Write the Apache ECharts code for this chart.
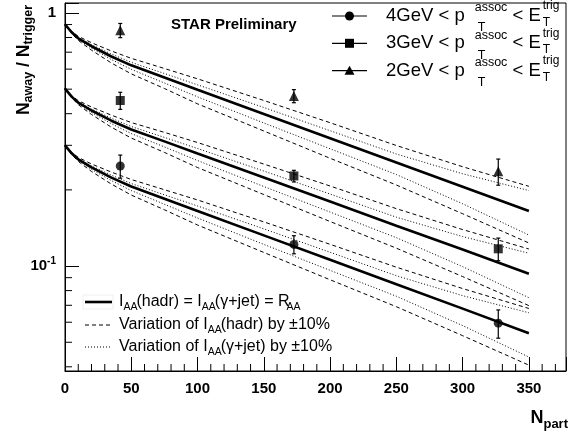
<!DOCTYPE html>
<html><head><meta charset="utf-8">
<script src="https://cdn.jsdelivr.net/npm/echarts@6/dist/echarts.min.js"></script>
<style>html,body{margin:0;padding:0;background:#fff}#c{width:575px;height:433px}</style>
</head><body><div id="c"></div>
<script>
// ---------------- data ----------------
const xSamples = [0, 5, 10, 20, 35, 50, 75, 100, 150, 200, 250, 300, 350];

// 2GeV group (triangles, top)
const top_solid   = [0.902, 0.839, 0.794, 0.739, 0.673, 0.621, 0.556, 0.497, 0.399, 0.320, 0.2566, 0.2058, 0.165];
const top_dashUp  = [0.902, 0.8467, 0.8086, 0.7629, 0.7076, 0.6619, 0.6035, 0.5493, 0.4511, 0.3685, 0.2995, 0.2469, 0.2066];
const top_dotUp   = [0.902, 0.8428, 0.8013, 0.7492, 0.6885, 0.6382, 0.5766, 0.5201, 0.4233, 0.3426, 0.2772, 0.2316, 0.1988];
const top_dotLo   = [0.902, 0.8352, 0.7868, 0.7257, 0.6549, 0.5988, 0.5289, 0.4663, 0.3676, 0.2908, 0.2300, 0.1763, 0.1326];
const top_dashLo  = [0.902, 0.8314, 0.7797, 0.7126, 0.6343, 0.5748, 0.5030, 0.4375, 0.3418, 0.2667, 0.2091, 0.1610, 0.1234];

// 3GeV group (squares, middle)
const mid_solid   = [0.5025, 0.4673, 0.4423, 0.4118, 0.3753, 0.3463, 0.3109, 0.2784, 0.2238, 0.1799, 0.1444, 0.1162, 0.0933];
const mid_dashUp  = [0.5025, 0.4716, 0.4504, 0.4251, 0.3946, 0.3691, 0.3375, 0.3077, 0.2530, 0.2072, 0.1686, 0.1394, 0.1168];
const mid_dotUp   = [0.5025, 0.4694, 0.4463, 0.4175, 0.3839, 0.3559, 0.3224, 0.2914, 0.2374, 0.1926, 0.1560, 0.1308, 0.1124];
const mid_dotLo   = [0.5025, 0.4652, 0.4383, 0.4044, 0.3652, 0.3339, 0.2957, 0.2612, 0.2062, 0.1635, 0.1295, 0.0995, 0.0750];
const mid_dashLo  = [0.5025, 0.4631, 0.4343, 0.3971, 0.3537, 0.3205, 0.2813, 0.2451, 0.1917, 0.1500, 0.1177, 0.0909, 0.0698];

// 4GeV group (circles, bottom)
const bot_solid   = [0.300, 0.2789, 0.2640, 0.2453, 0.2236, 0.2062, 0.1845, 0.1651, 0.1322, 0.1059, 0.0848, 0.0679, 0.0543];
const bot_dashUp  = [0.300, 0.2814, 0.2688, 0.2532, 0.2351, 0.2198, 0.2003, 0.1825, 0.1495, 0.1219, 0.0990, 0.0815, 0.0680];
const bot_dotUp   = [0.300, 0.2802, 0.2664, 0.2487, 0.2287, 0.2119, 0.1913, 0.1728, 0.1403, 0.1134, 0.0916, 0.0764, 0.0654];
const bot_dotLo   = [0.300, 0.2776, 0.2616, 0.2409, 0.2176, 0.1988, 0.1755, 0.1549, 0.1218, 0.0962, 0.0760, 0.0582, 0.0437];
const bot_dashLo  = [0.300, 0.2764, 0.2592, 0.2365, 0.2108, 0.1908, 0.1669, 0.1453, 0.1132, 0.0883, 0.0691, 0.0531, 0.0406];

// measured points
const nPart    = [41.7, 172.7, 326.9];
const tri      = [0.854, 0.470, 0.2367];
const triErr   = [0.055, 0.028, 0.028];
const sq       = [0.451, 0.227, 0.117];
const sqErr    = [0.035, 0.012, 0.012];
const circ     = [0.2485, 0.1218, 0.0595];
const circErr  = [0.026, 0.010, 0.0076];

// axis ticks
const xMinorTicks = [10,20,30,40,60,70,80,90,110,120,130,140,160,170,180,190,210,220,230,240,260,270,280,290,310,320,330,340,360,370];
const yMinorTicks = [0.04,0.05,0.06,0.07,0.08,0.09,0.2,0.3,0.4,0.5,0.6,0.7,0.8,0.9];

// ---------------- chart ----------------
const FONT = '"Liberation Sans", Arial, Helvetica, sans-serif';
const cv = document.createElement('canvas').getContext('2d');
function tw(t, fs, bold) { cv.font = (bold ? 'bold ' : '') + fs + 'px ' + FONT; return cv.measureText(t).width; }
function runWidth(segs) {
  let w = 0, st = 0;
  segs.forEach(s => { const sw = tw(s.t, s.fs, s.bold) + (s.dx || 0);
    if (s.stack) st = Math.max(st, sw); else { w += Math.max(sw, st) + (s.gap || 0); st = 0; } });
  return w;
}
function textRun(x, y, segs) {
  const out = []; let cx = x, st = 0;
  segs.forEach(s => {
    const w = tw(s.t, s.fs, s.bold) + (s.dx || 0);
    out.push({ type: 'text', x: cx + (s.dx || 0), y: y + (s.dy || 0), silent: true,
      style: { text: s.t, fontSize: s.fs, fontFamily: FONT, fontWeight: s.bold ? 'bold' : 'normal',
        fill: '#000', align: 'left', verticalAlign: 'middle' } });
    if (s.stack) st = Math.max(st, w); else { cx += Math.max(w, st) + (s.gap || 0); st = 0; }
  });
  return out;
}

const chart = echarts.init(document.getElementById('c'));
const pairs = arr => xSamples.map((x, i) => [x, arr[i]]);
function curve(arr, kind) {
  const ls = kind === 'solid' ? { width: 2.6, type: 'solid' }
           : kind === 'dash' ? { width: 1, type: [4, 3] }
           : { width: 1, type: [1, 2] };
  return { type: 'line', data: pairs(arr), showSymbol: false, smooth: false,
    lineStyle: Object.assign({ color: '#000' }, ls), silent: true, z: 2 };
}
const curves = [];
[[top_solid, top_dashUp, top_dotUp, top_dotLo, top_dashLo],
 [mid_solid, mid_dashUp, mid_dotUp, mid_dotLo, mid_dashLo],
 [bot_solid, bot_dashUp, bot_dotUp, bot_dotLo, bot_dashLo]].forEach(g => {
  curves.push(curve(g[1], 'dash'), curve(g[4], 'dash'), curve(g[2], 'dot'), curve(g[3], 'dot'), curve(g[0], 'solid'));
});

function errSeries(vals, errs) {
  return { type: 'custom', z: 4, silent: true,
    data: nPart.map((x, i) => [x, vals[i], errs[i]]),
    renderItem: (p, api) => {
      const x = api.value(0), y = api.value(1), e = api.value(2);
      const a = api.coord([x, y + e]), b = api.coord([x, y - e]);
      return { type: 'group', children: [
        { type: 'line', shape: { x1: a[0], y1: a[1], x2: b[0], y2: b[1] }, style: { stroke: '#000', lineWidth: 1.2 } },
        { type: 'line', shape: { x1: a[0] - 2, y1: a[1], x2: a[0] + 2, y2: a[1] }, style: { stroke: '#000', lineWidth: 1.2 } },
        { type: 'line', shape: { x1: b[0] - 2, y1: b[1], x2: b[0] + 2, y2: b[1] }, style: { stroke: '#000', lineWidth: 1.2 } }
      ] };
    } };
}
function pts(vals, symbol, size) {
  return { type: 'scatter', z: 5, silent: true, symbol: symbol, symbolSize: size,
    itemStyle: { color: '#000' }, data: nPart.map((x, i) => [x, vals[i]]) };
}

const minorX = { type: 'custom', silent: true, z: 3, data: xMinorTicks.map(v => [v, 0.0385]),
  renderItem: (p, api) => { const c = api.coord([api.value(0), api.value(1)]);
    return { type: 'line', shape: { x1: c[0], y1: c[1], x2: c[0], y2: c[1] - 7 }, style: { stroke: '#000', lineWidth: 1 } }; } };
const minorY = { type: 'custom', silent: true, z: 3, data: yMinorTicks.map(v => [0, v]),
  renderItem: (p, api) => { const c = api.coord([api.value(0), api.value(1)]);
    return { type: 'line', shape: { x1: c[0], y1: c[1], x2: c[0] + 7, y2: c[1] }, style: { stroke: '#000', lineWidth: 1 } }; } };

// ---- graphic texts / legends ----
const g = [];
g.push({ type: 'text', x: 171, y: 25, silent: true, style: { text: 'STAR Preliminary', fontSize: 15, fontWeight: 'bold', fontFamily: FONT, fill: '#000', verticalAlign: 'middle' } });

// top-right legend
const legRows = [['4GeV', 'circle', 16], ['3GeV', 'rect', 43.3], ['2GeV', 'triangle', 70.7]];
legRows.forEach(r => {
  const y = r[2];
  g.push({ type: 'line', silent: true, shape: { x1: 332, y1: y, x2: 367, y2: y }, style: { stroke: '#000', lineWidth: 1.2 } });
  if (r[1] === 'circle') g.push({ type: 'circle', silent: true, shape: { cx: 349.5, cy: y, r: 4.5 }, style: { fill: '#000' } });
  else if (r[1] === 'rect') g.push({ type: 'rect', silent: true, shape: { x: 345, y: y - 4.5, width: 9, height: 9 }, style: { fill: '#000' } });
  else g.push({ type: 'polygon', silent: true, shape: { points: [[349.5, y - 5], [354.5, y + 4], [344.5, y + 4]] }, style: { fill: '#000' } });
  g.push(...textRun(386, y, [
    { t: r[0] + ' < p', fs: 18.5 },
    { t: 'assoc', fs: 12.5, dy: -8, dx: 10, stack: true },
    { t: 'T', fs: 12.5, dy: 12, dx: 13 },
    { t: ' < E', fs: 18.5 },
    { t: 'trig', fs: 12, dy: -10, dx: 2, stack: true },
    { t: 'T', fs: 12, dy: 6.5, dx: 2 }
  ]));
});

// bottom-left legend
const bl = [302, 325, 347];
g.push({ type: 'rect', silent: true, shape: { x: 83, y: bl[0] - 7, width: 30, height: 14 }, style: { fill: 'none', stroke: '#eeeeee', lineWidth: 1 } });
g.push({ type: 'line', silent: true, shape: { x1: 85, y1: bl[0], x2: 112, y2: bl[0] }, style: { stroke: '#000', lineWidth: 2.6 } });
g.push({ type: 'line', silent: true, shape: { x1: 85, y1: bl[1], x2: 112, y2: bl[1] }, style: { stroke: '#000', lineWidth: 1, lineDash: [4, 3] } });
g.push({ type: 'line', silent: true, shape: { x1: 85, y1: bl[2], x2: 112, y2: bl[2] }, style: { stroke: '#000', lineWidth: 1, lineDash: [1, 2] } });
g.push(...textRun(119, bl[0], [
  { t: 'I', fs: 16 }, { t: 'AA', fs: 10.5, dy: 5, gap: -1 }, { t: '(hadr) = I', fs: 16 }, { t: 'AA', fs: 10.5, dy: 5, gap: -1 },
  { t: '(γ+jet) = R', fs: 16, gap: -3 }, { t: 'AA', fs: 10.5, dy: 5 }]));
g.push(...textRun(119, bl[1], [
  { t: 'Variation of I', fs: 16 }, { t: 'AA', fs: 10.5, dy: 5, gap: -1 }, { t: '(hadr) by ±10%', fs: 16 }]));
g.push(...textRun(119, bl[2], [
  { t: 'Variation of I', fs: 16 }, { t: 'AA', fs: 10.5, dy: 5, gap: -1 }, { t: '(γ+jet) by ±10%', fs: 16 }]));

// y-axis title (rotated)
const ySegs = [{ t: 'N', fs: 17.5, bold: true }, { t: 'away', fs: 12.5, bold: true, dy: 5 },
               { t: ' / N', fs: 17.5, bold: true }, { t: 'trigger', fs: 12.5, bold: true, dy: 5 }];
const yW = runWidth(ySegs);
g.push({ type: 'group', x: 24, y: 5, rotation: Math.PI / 2, children: textRun(-yW, 0, ySegs) });

// x-axis title
const xSegs = [{ t: 'N', fs: 18, bold: true }, { t: 'part', fs: 13, bold: true, dy: 6 }];
const xW = runWidth(xSegs);
g.push(...textRun(568 - xW, 418, xSegs));

const option = {
  animation: false,
  backgroundColor: '#fff',
  grid: { left: 65, right: 9, top: 3, bottom: 62, show: true, borderColor: '#000', borderWidth: 1, backgroundColor: 'transparent' },
  xAxis: {
    type: 'value', min: 0, max: 378, interval: 50,
    axisLine: { lineStyle: { color: '#000', width: 1 } },
    axisTick: { inside: true, length: 14, lineStyle: { color: '#000' } },
    splitLine: { show: false },
    axisLabel: { color: '#000', fontSize: 15, fontWeight: 'bold', fontFamily: FONT, margin: 10,
      formatter: v => (v % 50 === 0 ? String(v) : '') }
  },
  yAxis: {
    type: 'log', logBase: 10, min: 0.0385, max: 1.095,
    axisLine: { lineStyle: { color: '#000', width: 1 } },
    axisTick: { inside: true, length: 14, lineStyle: { color: '#000' } },
    splitLine: { show: false },
    axisLabel: { color: '#000', fontSize: 15, fontWeight: 'bold', fontFamily: FONT, margin: 9,
      formatter: v => (Math.abs(v - 1) < 1e-6 ? '1' : Math.abs(v - 0.1) < 1e-7 ? '10{s|-1}' : ''),
      rich: { s: { fontSize: 10, fontWeight: 'bold', fontFamily: FONT, color: '#000', padding: [0, 0, 10, 0] } } }
  },
  series: [].concat(curves, [minorX, minorY,
    errSeries(tri, triErr), errSeries(sq, sqErr), errSeries(circ, circErr),
    pts(tri, 'triangle', 10), pts(sq, 'rect', 9), pts(circ, 'circle', 9)]),
  graphic: g
};
chart.setOption(option);
</script></body></html>
